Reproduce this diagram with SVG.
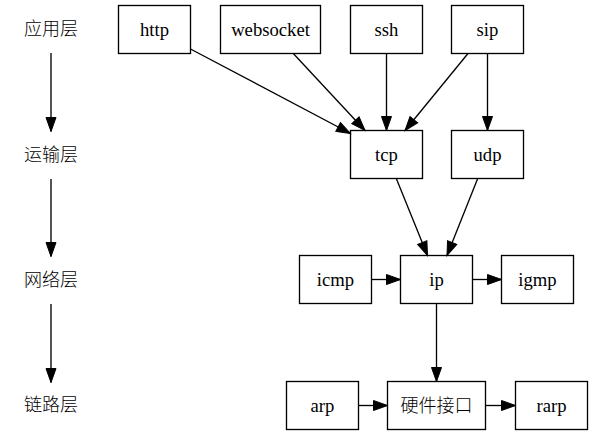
<svg xmlns="http://www.w3.org/2000/svg" width="593" height="435" viewBox="0 0 593 435">
<defs>
<marker id="ah" markerUnits="userSpaceOnUse" markerWidth="18" markerHeight="14" viewBox="0 -7 15 14" refX="14" refY="0" orient="auto">
<path d="M0,-5 L14,0 L0,5 z" fill="#000" stroke="#000" stroke-width="1"/>
</marker>
</defs>
<style>
rect{fill:#fff;stroke:#000;stroke-width:1.33}
text{font-family:"Liberation Serif","Noto Sans CJK SC",serif;font-size:18.67px;text-anchor:middle;fill:#000}
.cjk{font-family:"Noto Sans CJK SC","Liberation Serif",serif;font-size:18px;font-weight:300}
.e{fill:none;stroke:#000;stroke-width:1.33;marker-end:url(#ah)}
</style>
<rect x="0" y="0" width="593" height="435" style="fill:#fff;stroke:none"/>
<g id="layers">
<g id="L1"><text class="cjk" x="51" y="35">应用层</text></g>
<g id="L2"><text class="cjk" x="51" y="161">运输层</text></g>
<g id="L3"><text class="cjk" x="51" y="286">网络层</text></g>
<g id="L4"><text class="cjk" x="51" y="411">链路层</text></g>
</g>
<g id="http"><rect x="118.5" y="5.5" width="72" height="48"/><text x="154.5" y="35.5">http</text></g>
<g id="websocket"><rect x="220.5" y="5.5" width="100" height="48"/><text x="270.5" y="35.5">websocket</text></g>
<g id="ssh"><rect x="350.5" y="5.5" width="72" height="48"/><text x="386.5" y="35.5">ssh</text></g>
<g id="sip"><rect x="451.5" y="5.5" width="72" height="48"/><text x="487.5" y="35.5">sip</text></g>
<g id="tcp"><rect x="350.5" y="130.5" width="72" height="48"/><text x="386.5" y="160.5">tcp</text></g>
<g id="udp"><rect x="451.5" y="130.5" width="72" height="48"/><text x="487.5" y="160.5">udp</text></g>
<g id="icmp"><rect x="299.5" y="255.5" width="72" height="48"/><text x="335.5" y="285.5">icmp</text></g>
<g id="ip"><rect x="400.5" y="255.5" width="72" height="48"/><text x="436.5" y="285.5">ip</text></g>
<g id="igmp"><rect x="501.5" y="255.5" width="72" height="48"/><text x="537.5" y="285.5">igmp</text></g>
<g id="arp"><rect x="286.5" y="381.5" width="72" height="48"/><text x="322.5" y="411.5">arp</text></g>
<g id="hw"><rect x="387.5" y="381.5" width="98" height="48"/><text class="cjk" x="436.5" y="411.5">硬件接口</text></g>
<g id="rarp"><rect x="515.5" y="381.5" width="72" height="48"/><text x="551.5" y="411.5">rarp</text></g>
<g id="connectors">
<line class="e" x1="51" y1="53" x2="51" y2="131.5"/>
<line class="e" x1="51" y1="179" x2="51" y2="256.5"/>
<line class="e" x1="51" y1="304" x2="51" y2="382.5"/>
<line class="e" x1="190.5" y1="49" x2="350.5" y2="133.5"/>
<line class="e" x1="293.3" y1="53.5" x2="365" y2="130.5"/>
<line class="e" x1="386.5" y1="53.5" x2="386.5" y2="130.5"/>
<line class="e" x1="468" y1="53.5" x2="405" y2="130.5"/>
<line class="e" x1="487.5" y1="53.5" x2="487.5" y2="130.5"/>
<line class="e" x1="396.3" y1="178.5" x2="427.5" y2="255.5"/>
<line class="e" x1="477.7" y1="178.5" x2="447" y2="255.5"/>
<line class="e" x1="371.5" y1="279.5" x2="400.5" y2="279.5"/>
<line class="e" x1="472.5" y1="279.5" x2="501.5" y2="279.5"/>
<line class="e" x1="436.5" y1="303.5" x2="436.5" y2="381.5"/>
<line class="e" x1="358.5" y1="405.5" x2="387.5" y2="405.5"/>
<line class="e" x1="485.5" y1="405.5" x2="515.5" y2="405.5"/>
</g>
</svg>
